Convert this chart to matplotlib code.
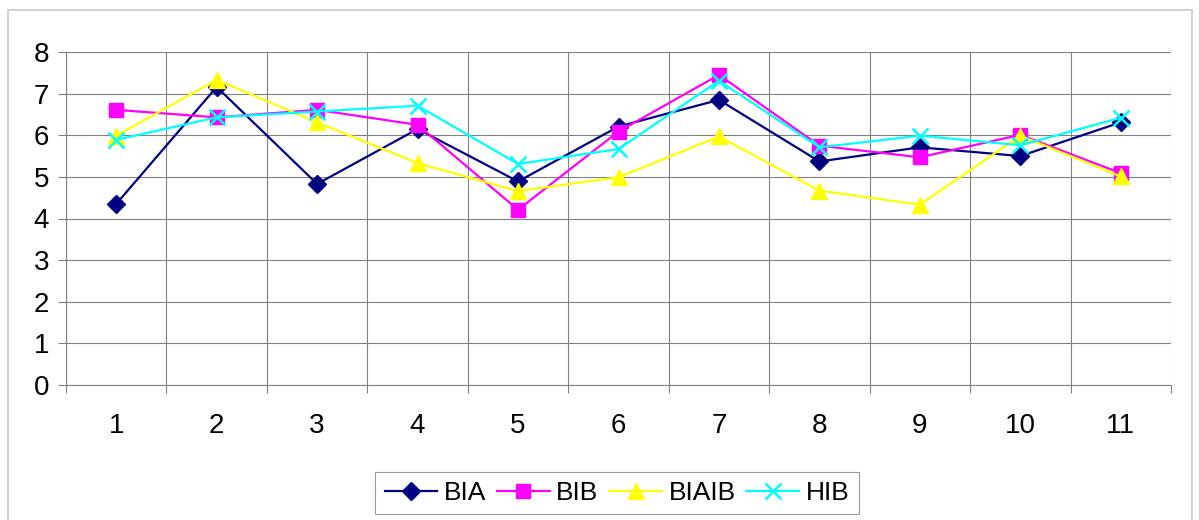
import matplotlib
matplotlib.use("Agg")
import matplotlib.pyplot as plt
import numpy as np
from matplotlib.patches import Rectangle

plt.rcParams['font.family'] = ['Liberation Sans', 'DejaVu Sans']

# --- data --- #
categories = ['1', '2', '3', '4', '5', '6', '7', '8', '9', '10', '11']
bia = [4.35, 7.16, 4.83, 6.15, 4.89, 6.21, 6.85, 5.37, 5.71, 5.50, 6.31]
bib = [6.61, 6.43, 6.61, 6.25, 4.21, 6.09, 7.45, 5.75, 5.47, 6.01, 5.09]
biaib = [5.99, 7.33, 6.31, 5.33, 4.66, 4.99, 5.97, 4.67, 4.33, 5.99, 5.01]
hib = [5.89, 6.43, 6.57, 6.71, 5.31, 5.67, 7.31, 5.71, 5.99, 5.76, 6.42]
yticks = [0, 1, 2, 3, 4, 5, 6, 7, 8]

fig = plt.figure(figsize=(11.99, 5.2), dpi=100)
ax = fig.add_axes([66/1199, 1-385/520, (1171-66)/1199, (385-52)/520])

x = np.arange(1, len(categories) + 1)
ax.plot(x, bia, color='#000080', lw=1.6, marker='D', ms=9, label='BIA')
ax.plot(x, bib, color='#FF00FF', lw=1.6, marker='s', ms=10, label='BIB')
ax.plot(x, biaib, color='#FFFF00', lw=1.6, marker='^', ms=11, label='BIAIB')
ax.plot(x, hib, color='#00FFFF', lw=1.6, marker='x', ms=11, mew=1.8, label='HIB')

ax.set_xlim(0.5, len(categories) + 0.5)
ax.set_ylim(0, 8)

# category boundaries as major ticks (grid), labels on minor ticks
ax.set_xticks(np.arange(0.5, len(categories) + 1, 1.0))
ax.set_xticklabels([])
ax.set_xticks(x, minor=True)
ax.set_xticklabels(categories, minor=True)
ax.tick_params(axis='x', which='major', length=6, color='#808080', width=0.8)
ax.tick_params(axis='x', which='minor', length=0, pad=20, labelsize=20)
ax.set_yticks(yticks)
ax.tick_params(axis='y', length=6, color='#808080', width=0.8, pad=6, labelsize=20)

ax.grid(True, which='major', color='#808080', lw=0.8)
ax.set_axisbelow(True)
for s in ['top', 'right']:
    ax.spines[s].set_visible(False)
for s in ['left', 'bottom']:
    ax.spines[s].set_color('#808080')
    ax.spines[s].set_linewidth(0.8)

leg = ax.legend(loc='center', bbox_to_anchor=(617/1199, 1-493/520),
                bbox_transform=fig.transFigure, ncol=4, fontsize=19,
                frameon=True, fancybox=False, handlelength=2.0,
                columnspacing=0.4, handletextpad=0.25, borderpad=0.35,
                borderaxespad=0)
leg.get_frame().set_edgecolor('#808080')
leg.get_frame().set_linewidth(0.8)

# outer chart border (bottom edge runs off the image)
fig.patches.append(Rectangle((8/1199, -5/520), (1192-8)/1199, (510+5)/520,
                             transform=fig.transFigure, fill=False,
                             edgecolor='#c8c8c8', lw=1.2))

plt.savefig('out.png', dpi=100)
